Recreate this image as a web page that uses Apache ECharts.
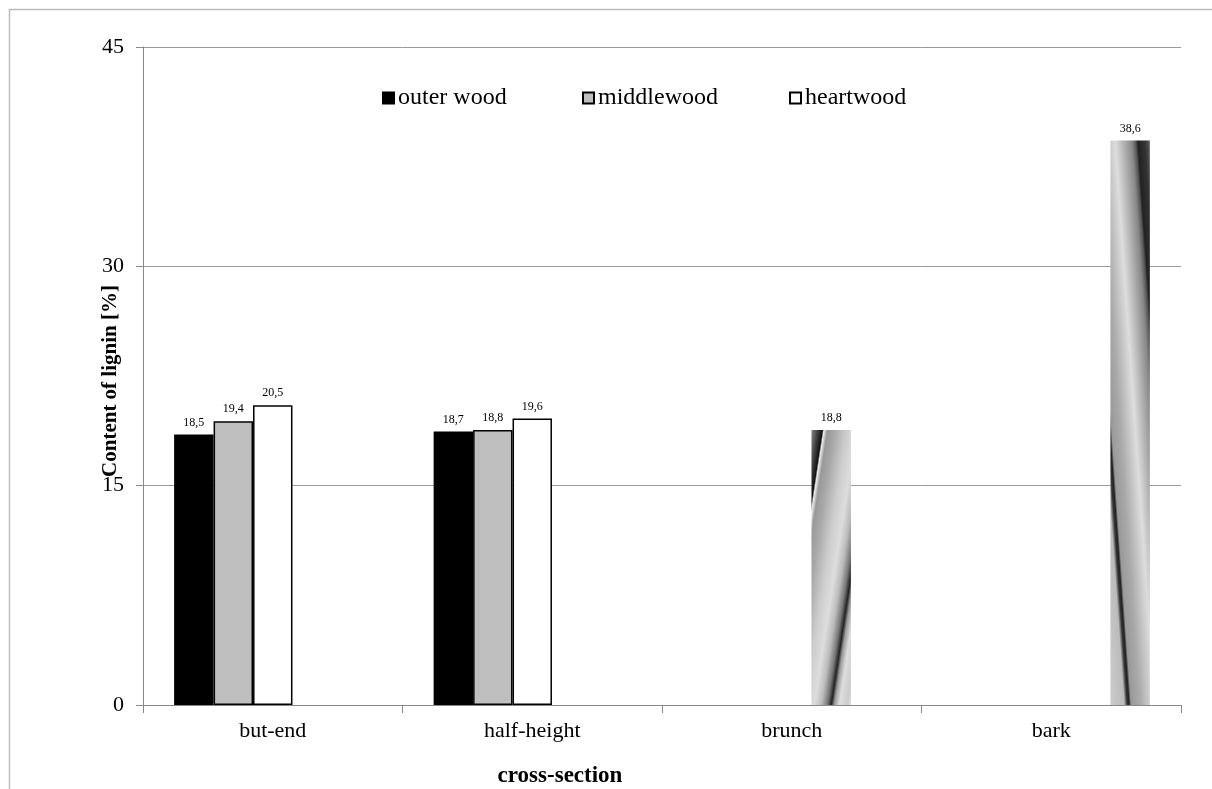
<!DOCTYPE html>
<html>
<head>
<meta charset="utf-8">
<title>Content of lignin</title>
<script src="https://cdn.jsdelivr.net/npm/echarts@6/dist/echarts.min.js"></script>
<style>
	html, body { margin: 0; padding: 0; background: #fff; }
	#chart { width: 1212px; height: 789px; }
</style>
</head>
<body>
<div id="chart"></div>
<script>
	// 数据
	var categories = ['but-end', 'half-height', 'brunch', 'bark'];
	var outerWood = [18.5, 18.7, null, null];
	var middleWood = [19.4, 18.8, null, null];
	var heartWood = [20.5, 19.6, null, null];
	var brunchVals = [null, null, 18.8, null];
	var barkVals = [null, null, null, 38.6];
	var yTicks = [0, 15, 30, 45];

	var serif = '"Liberation Serif", "Times New Roman", serif';

	// 条纹渐变（近似原图的斜纹填充）
	function stripes(x, y, x2, y2, total, stops) {
		return {
			type: 'linear', x: x, y: y, x2: x2, y2: y2, global: false,
			colorStops: stops.map(function(s) {
				return { offset: Math.min(1, s[0] / total), color: s[1] };
			})
		};
	}

	var brunchFill = stripes(0, 0, 2.1, 0.046, 85, [
		[0, '#888'], [6, '#444'], [11, '#111'], [12.5, '#eee'], [16, '#999'],
		[24, '#aaa'], [35, '#ccc'], [45, '#ddd'], [52, '#bbb'], [58, '#777'],
		[62, '#222'], [65, '#999'], [70, '#ddd'], [78, '#ccc'], [85, '#eee']
	]);
	var barkFill = stripes(0, 1, 2.03, 0.99, 81.5, [
		[0, '#ccc'], [14, '#bbb'], [17, '#333'], [19, '#222'], [21, '#999'],
		[30, '#aaa'], [40, '#ccc'], [45, '#ddd'], [52, '#bbb'], [62, '#888'],
		[66, '#555'], [68, '#222'], [75, '#333'], [81.5, '#666']
	]);

	function fmt(p) {
		return String(p.value).replace('.', ',');
	}

	var labelCfg = {
		show: true, position: 'top', distance: 6,
		color: '#000', fontFamily: serif, fontSize: 12, formatter: fmt
	};

	function barSeries(name, data, color, border) {
		return {
			name: name, type: 'bar', data: data,
			barGap: '0%', barCategoryGap: '24%',
			itemStyle: { color: color, borderColor: border ? '#000' : color, borderWidth: border ? 1.5 : 0 },
			label: labelCfg,
			emphasis: { disabled: true }
		};
	}

	function legendAt(left, name) {
		return {
			left: left, top: 81, data: [name], icon: 'rect',
			itemWidth: 11, itemHeight: 11, itemGap: 5,
			textStyle: { fontFamily: serif, fontSize: 24, color: '#000', padding: [0, 0, 0, -1] },
			selectedMode: false
		};
	}

	var chart = echarts.init(document.getElementById('chart'));
	chart.setOption({
		animation: false,
		backgroundColor: '#fff',
		legend: [
			legendAt(377, 'outer wood'),
			legendAt(577, 'middlewood'),
			legendAt(784, 'heartwood')
		],
		grid: { left: 143, right: 31, top: 47, bottom: 84 },
		xAxis: {
			type: 'category', data: categories,
			axisLine: { lineStyle: { color: '#888', width: 1 } },
			axisTick: { show: true, length: 8, lineStyle: { color: '#888' } },
			axisLabel: { color: '#000', fontFamily: serif, fontSize: 22, margin: 15 }
		},
		yAxis: {
			type: 'value', min: yTicks[0], max: yTicks[yTicks.length - 1], interval: 15,
			axisLine: { show: true, lineStyle: { color: '#888', width: 1 } },
			axisTick: { show: true, length: 7, lineStyle: { color: '#888' } },
			axisLabel: { color: '#000', fontFamily: serif, fontSize: 22, margin: 19 },
			splitLine: { lineStyle: { color: '#999', width: 1 } }
		},
		graphic: [
			{
				type: 'rect', silent: true, z: -1,
				shape: { x: 9.5, y: 9.5, width: 1300, height: 900 },
				style: { fill: null, stroke: '#bbb', lineWidth: 1.5 }
			},
			{
				type: 'text', x: 111, y: 381, rotation: Math.PI / 2,
				style: {
					text: 'Content of lignin [%]', fontFamily: serif, fontSize: 21,
					fontWeight: 'bold', fill: '#000', align: 'center', verticalAlign: 'middle'
				}
			},
			{
				type: 'text', x: 560, y: 776,
				style: {
					text: 'cross-section', fontFamily: serif, fontSize: 23,
					fontWeight: 'bold', fill: '#000', align: 'center', verticalAlign: 'middle'
				}
			}
		],
		series: [
			barSeries('outer wood', outerWood, '#000', true),
			barSeries('middlewood', middleWood, '#bfbfbf', true),
			barSeries('heartwood', heartWood, '#fff', true),
			barSeries('brunch', brunchVals, brunchFill, false),
			barSeries('bark', barkVals, barkFill, false)
		]
	});
</script>
</body>
</html>
